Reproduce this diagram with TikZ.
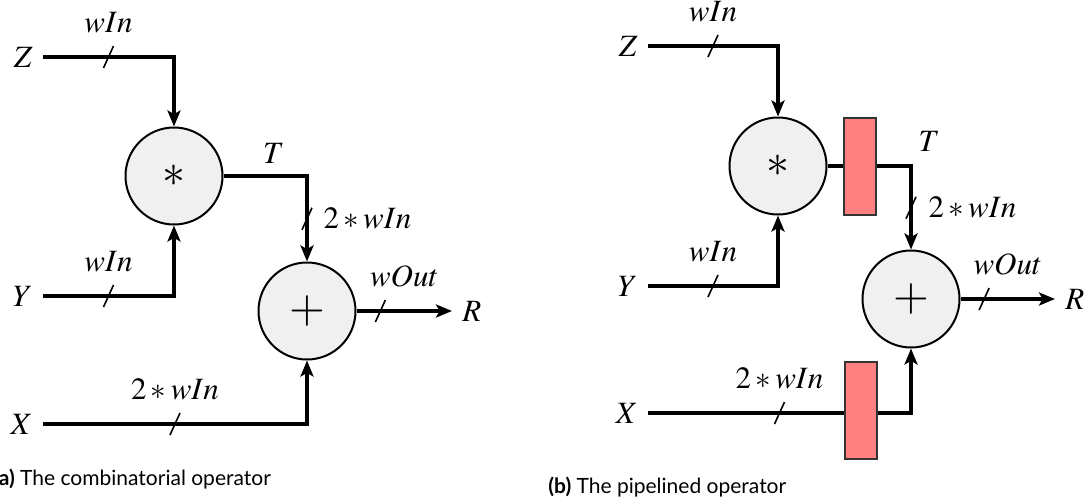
\documentclass[tikz,border=0pt]{standalone}
\usepackage{mathptmx}
\usepackage[no-math]{fontspec}
\newfontfamily\capfont{Lato}
\usetikzlibrary{arrows.meta,positioning}
\definecolor{opgray}{HTML}{F0F0F0}
\definecolor{regred}{HTML}{FF8080}
\newcommand\lab{\fontsize{15.5}{18}\selectfont}
\tikzset{
    op/.style={circle, draw, line width=1pt, fill=opgray, minimum size=48.5pt, inner sep=0pt, font=\fontsize{23}{23}\selectfont},
    reg/.style={rectangle, draw=black!80, line width=1pt, fill=regred, minimum width=16pt, minimum height=48.5pt, inner sep=0pt},
    sig/.style={inner sep=5pt, font=\lab},
    wire/.style={draw, line width=1.6pt},
    arr/.style={wire, -{Stealth[length=8pt, width=6.5pt, inset=1.8pt]}},
    bus/.pic={\draw[line width=0.8pt, -] (-2.5pt,-5.5pt) -- (2.5pt,5.5pt);},
    wlabel/.style={inner sep=0pt, font=\lab},
    caption/.style={anchor=base west, inner sep=0pt, font=\capfont\fontsize{10.5}{12}\selectfont}
}

\begin{document}
\begin{tikzpicture}[x=0.5pt, y=-0.5pt]
\useasboundingbox (0,0) rectangle (1090,503);

% (a) combinatorial operator
\node[op] (mulA) at (174,176) {$*$};
\node[op] (addA) at (307,311) {$+$};
\node[sig, anchor=east] (zA) at (43,57)  {$Z$};
\node[sig, anchor=east] (yA) at (43,296) {$Y$};
\node[sig, anchor=east] (xA) at (43,424) {$X$};
\node[sig, anchor=west] (rA) at (452,311) {$R$};

\draw[arr] (zA) -| (mulA) pic[pos=.25]{bus} node[pos=.25, wlabel, above=11pt] {$wIn$};
\draw[arr] (yA) -| (mulA) pic[pos=.25]{bus} node[pos=.25, wlabel, above=11pt] {$wIn$};
\draw[arr] (xA) -| (addA) pic[pos=.25]{bus} node[pos=.25, wlabel, above=11pt] {$2*wIn$};
\draw[arr] (mulA) -| (addA) node[pos=.3, wlabel, above=5.5pt] {$T$}
    pic[pos=.75]{bus} node[pos=.75, wlabel, right=7.5pt] {$2*wIn$};
\draw[arr] (addA) -- (rA) pic[pos=.25]{bus} node[midway, wlabel, above=11pt] {$wOut$};

% (b) pipelined operator
\node[op] (mulB) at (778,166) {$*$};
\node[op] (addB) at (911,299) {$+$};
\node[sig, anchor=east] (zB) at (648,46)  {$Z$};
\node[sig, anchor=east] (yB) at (648,286) {$Y$};
\node[sig, anchor=east] (xB) at (648,413) {$X$};
\node[sig, anchor=west] (rB) at (1055,299) {$R$};

\draw[arr] (zB) -| (mulB) pic[pos=.25]{bus} node[pos=.25, wlabel, above=11pt] {$wIn$};
\draw[arr] (yB) -| (mulB) pic[pos=.25]{bus} node[pos=.25, wlabel, above=11pt] {$wIn$};
\draw[arr] (xB) -| (addB) pic[pos=.25]{bus} node[pos=.25, wlabel, above=11pt] {$2*wIn$};
\draw[arr] (mulB) -| (addB) node[pos=.5, wlabel, above right=6.5pt and 3pt] {$T$}
    pic[pos=.75]{bus} node[pos=.75, wlabel, right=8pt] {$2*wIn$};
\draw[arr] (addB) -- (rB) pic[pos=.25]{bus} node[midway, wlabel, above=11pt] {$wOut$};

% registers on top of the wires
\node[reg] (regT) at (860,166) {};
\node[reg] (regX) at (861,410) {};

% captions
\node[caption] (capA) at (-7,485) {\textbf{(a)} The combinatorial operator};
\node[caption] (capB) at (548,493) {\textbf{(b)} The pipelined operator};
\end{tikzpicture}
\end{document}
